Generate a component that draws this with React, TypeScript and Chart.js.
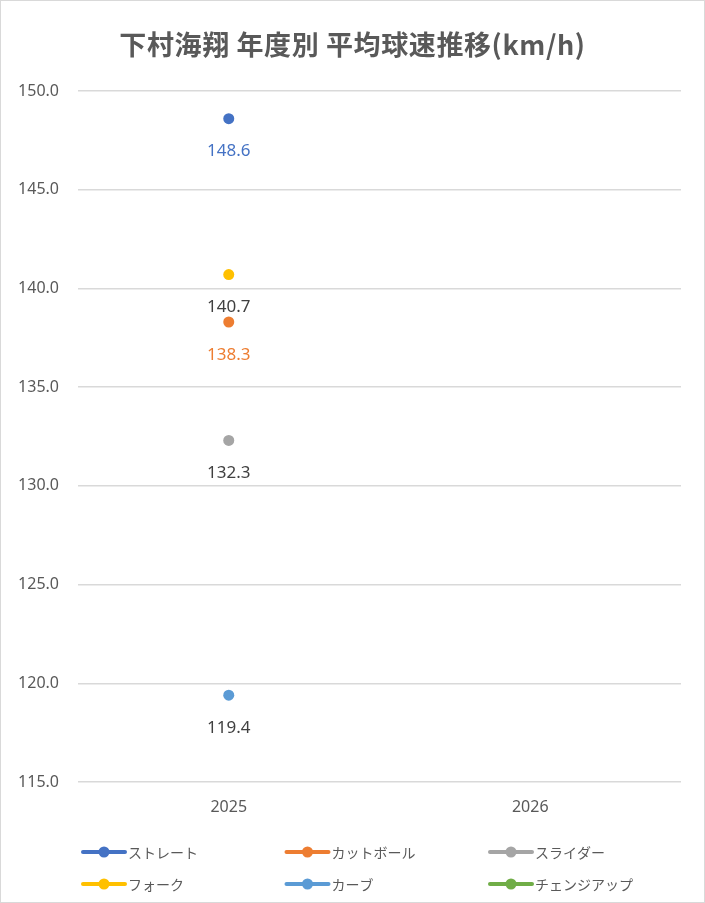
import { useEffect, useRef } from 'react';
import { Chart, registerables } from 'chart.js';
import type { Plugin } from 'chart.js';

Chart.register(...registerables);

const TITLE = '下村海翔 年度別 平均球速推移(km/h)';

const years = ['2025', '2026'];

const pitchNames = ['ストレート', 'カットボール', 'スライダー', 'フォーク', 'カーブ', 'チェンジアップ'];
const pitchColors = ['#4472C4', '#ED7D31', '#A5A5A5', '#FFC000', '#5B9BD5', '#70AD47'];
const labelColors = ['#4472C4', '#ED7D31', '#404040', '#404040', '#404040', '#404040'];

const straight = [148.6, null];
const cutBall = [138.3, null];
const slider = [132.3, null];
const fork = [140.7, null];
const curve = [119.4, null];
const changeUp = [null, null];

const seriesValues = [straight, cutBall, slider, fork, curve, changeUp];

const TEXT_COLOR = '#595959';
const GRID_COLOR = '#d9d9d9';
const JP_FONT = '"Noto Sans CJK JP", "Noto Sans", sans-serif';
const NUM_FONT = '"Noto Sans", "Noto Sans CJK JP", sans-serif';

// title drawn by hand so the plot area can be pinned exactly
const titlePlugin: Plugin<'line'> = {
  id: 'topTitle',
  afterDraw(chart) {
    const { ctx, width } = chart;
    ctx.save();
    ctx.fillStyle = TEXT_COLOR;
    ctx.font = `bold 27px ${JP_FONT}`;
    (ctx as any).letterSpacing = '0.6px';
    ctx.textAlign = 'center';
    ctx.textBaseline = 'middle';
    ctx.fillText(TITLE, width / 2, 44);
    ctx.restore();
  }
};

const valueLabelPlugin: Plugin<'line'> = {
  id: 'valueLabels',
  afterDatasetsDraw(chart) {
    const { ctx } = chart;
    ctx.save();
    ctx.font = `17px ${NUM_FONT}`;
    ctx.textAlign = 'center';
    ctx.textBaseline = 'middle';
    chart.data.datasets.forEach((ds, i) => {
      const meta = chart.getDatasetMeta(i);
      meta.data.forEach((pt, j) => {
        const v = ds.data[j] as number | null;
        if (v == null) return;
        ctx.fillStyle = labelColors[i];
        ctx.fillText(v.toFixed(1), pt.x, pt.y + 33);
      });
    });
    ctx.restore();
  }
};

const gridLegendPlugin: Plugin<'line'> = {
  id: 'gridLegend',
  afterDraw(chart) {
    const { ctx } = chart;
    const left = 81;
    const colW = 203.5;
    const rows = [851, 883];
    ctx.save();
    ctx.font = `14px ${JP_FONT}`;
    ctx.textBaseline = 'middle';
    ctx.textAlign = 'left';
    chart.data.datasets.forEach((ds, i) => {
      const x = left + (i % 3) * colW;
      const y = rows[Math.floor(i / 3)];
      const color = ds.borderColor as string;
      ctx.strokeStyle = color;
      ctx.lineWidth = 4;
      ctx.lineCap = 'round';
      ctx.beginPath();
      ctx.moveTo(x + 1, y);
      ctx.lineTo(x + 43, y);
      ctx.stroke();
      ctx.fillStyle = color;
      ctx.beginPath();
      ctx.arc(x + 22, y, 5.5, 0, Math.PI * 2);
      ctx.fill();
      ctx.fillStyle = TEXT_COLOR;
      ctx.fillText(ds.label ?? '', x + 46, y + 1);
    });
    ctx.restore();
  }
};

export default function App() {
  const canvasRef = useRef<HTMLCanvasElement | null>(null);

  useEffect(() => {
    document.body.style.margin = '0';
    if (!canvasRef.current) return;

    const chart = new Chart(canvasRef.current, {
      type: 'line',
      data: {
        labels: years,
        datasets: pitchNames.map((name, i) => ({
          label: name,
          data: seriesValues[i],
          borderColor: pitchColors[i],
          backgroundColor: pitchColors[i],
          borderWidth: 3,
          pointRadius: 5.5,
          pointBorderWidth: 0,
          spanGaps: false
        }))
      },
      options: {
        responsive: false,
        animation: false,
        layout: { padding: { top: 90, right: 23, left: 0, bottom: 0 } },
        plugins: {
          legend: { display: false },
          title: { display: false },
          tooltip: { enabled: false }
        },
        scales: {
          x: {
            offset: true,
            grid: { display: false, drawTicks: false },
            border: { display: false },
            ticks: {
              color: TEXT_COLOR,
              font: { family: NUM_FONT, size: 16 },
              padding: 16
            },
            afterFit(scale) {
              scale.height = 120;
            }
          },
          y: {
            min: 115,
            max: 150,
            grid: { color: GRID_COLOR, lineWidth: 1.5, drawTicks: false },
            border: { display: false },
            ticks: {
              stepSize: 5,
              color: TEXT_COLOR,
              font: { family: NUM_FONT, size: 16 },
              padding: 19,
              callback: (v) => Number(v).toFixed(1)
            },
            afterFit(scale) {
              scale.width = 77;
            }
          }
        }
      },
      plugins: [titlePlugin, valueLabelPlugin, gridLegendPlugin]
    });

    return () => {
      chart.destroy();
    };
  }, []);

  return (
    <div
      style={{
        width: '705px',
        height: '903px',
        boxSizing: 'border-box',
        border: `1px solid ${GRID_COLOR}`,
        background: '#fff'
      }}
    >
      <canvas ref={canvasRef} width={703} height={901} style={{ display: 'block' }} />
    </div>
  );
}
